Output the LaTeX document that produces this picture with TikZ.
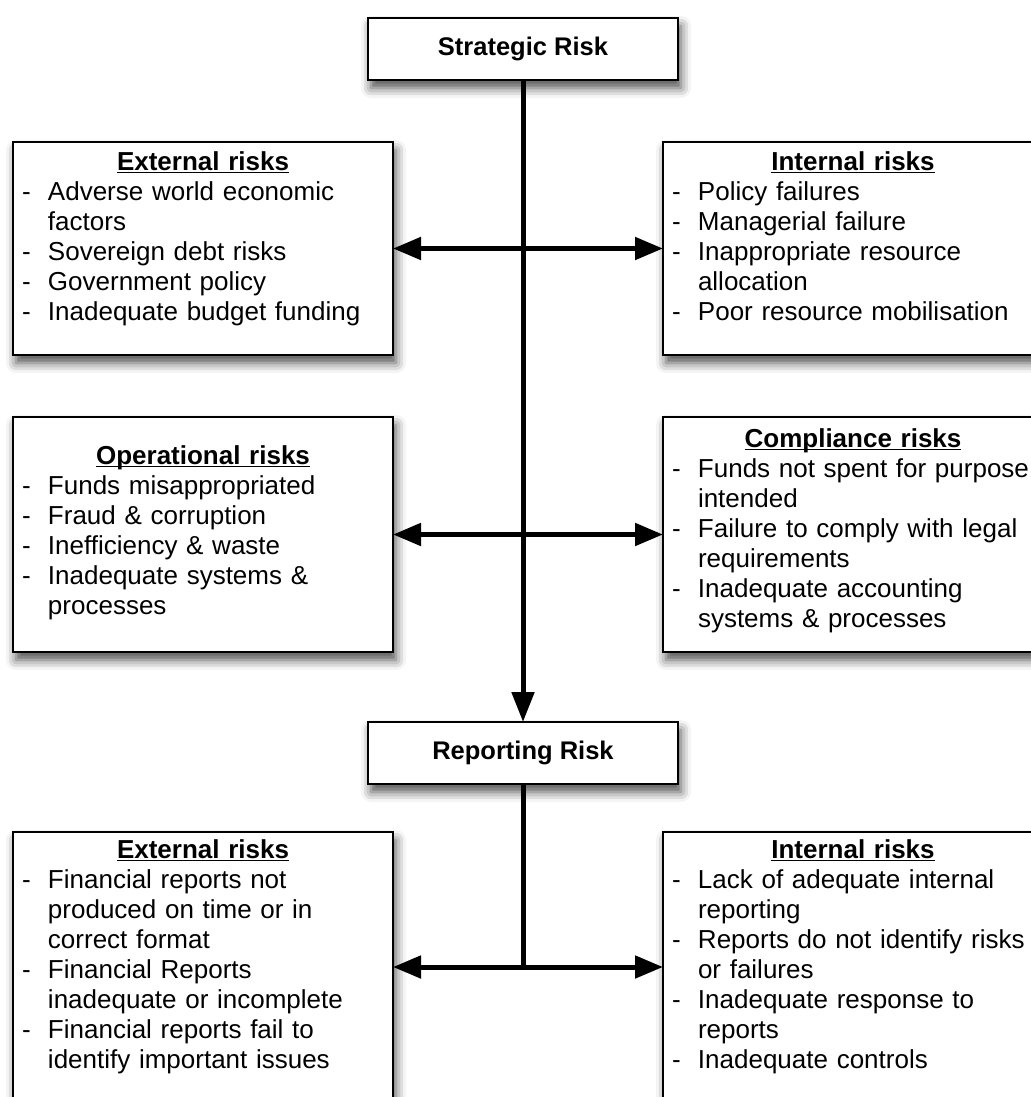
\documentclass[tikz,border=0pt]{standalone}
\usepackage{fontspec}
\setmainfont{Liberation Sans}
\usepackage{tikz}
\usetikzlibrary{arrows.meta}
\usetikzlibrary{shadows.blur}

\newcommand{\rhead}[1]{\centerline{\bfseries\underline{\raisebox{0pt}[\height][0pt]{#1}}}}
\newcommand{\ritem}[1]{\par\noindent\makebox[13pt][l]{-}\mbox{#1}}
\newcommand{\rmore}[1]{\par\noindent\hspace*{13pt}\mbox{#1}}

\begin{document}
\begin{tikzpicture}[x=0.5pt,y=-0.5pt,font=\fontsize{13pt}{15pt}\selectfont]

\tikzstyle{shade}=[blur shadow={shadow xshift=1.5pt,shadow yshift=-4pt,shadow blur radius=5pt,shadow opacity=70}]
\tikzstyle{levelbox}=[draw,line width=1pt,fill=white,shade,outer sep=0pt,inner sep=0pt,
                      minimum width=155pt,minimum height=31pt,anchor=north,font=\fontsize{12.75pt}{15pt}\selectfont\bfseries]
\tikzstyle{riskbox}=[draw,line width=1pt,fill=white,shade,outer sep=0pt,inner xsep=4.5pt,inner ysep=0pt,
                     text width=181pt,align=left,anchor=north west]
\tikzstyle{down}=[line width=2.5pt,-{Triangle[length=15pt,width=11pt]}]
\tikzstyle{both}=[line width=2.5pt,{Triangle[length=14pt,width=11pt]}-{Triangle[length=14pt,width=11pt]}]

\useasboundingbox (0,0) rectangle (1030,1097);

% levels
\node[levelbox] (strat) at (523,18) {Strategic Risk};
\node[levelbox] (report) at (523,722) {Reporting Risk};

% strategic risk groups
\node[riskbox,text height=14pt,text depth=92.5pt] (ext1) at (13,142) {\rhead{External risks}
  \ritem{Adverse world economic}
  \rmore{factors}
  \ritem{Sovereign debt risks}
  \ritem{Government policy}
  \ritem{Inadequate budget funding}};
\node[riskbox,text height=14pt,text depth=92.5pt] (int1) at (663,142) {\rhead{Internal risks}
  \ritem{Policy failures}
  \ritem{Managerial failure}
  \ritem{Inappropriate resource}
  \rmore{allocation}
  \ritem{Poor resource mobilisation}};
\node[riskbox,text height=23.5pt,text depth=94pt] (ops) at (13,417) {\rhead{Operational risks}
  \ritem{Funds misappropriated}
  \ritem{Fraud \& corruption}
  \ritem{Inefficiency \& waste}
  \ritem{Inadequate systems \&}
  \rmore{processes}};
\node[riskbox,text height=15pt,text depth=102.5pt] (comp) at (663,417) {\rhead{Compliance risks}
  \ritem{Funds not spent for purpose}
  \rmore{intended}
  \ritem{Failure to comply with legal}
  \rmore{requirements}
  \ritem{Inadequate accounting}
  \rmore{systems \& processes}};

% reporting risk groups
\node[riskbox,text height=13pt,text depth=122pt] (ext2) at (13,832) {\rhead{External risks}
  \ritem{Financial reports not}
  \rmore{produced on time or in}
  \rmore{correct format}
  \ritem{Financial Reports}
  \rmore{inadequate or incomplete}
  \ritem{Financial reports fail to}
  \rmore{identify important issues}};
\node[riskbox,text height=13pt,text depth=122pt] (int2) at (663,832) {\rhead{Internal risks}
  \ritem{Lack of adequate internal}
  \rmore{reporting}
  \ritem{Reports do not identify risks}
  \rmore{or failures}
  \ritem{Inadequate response to}
  \rmore{reports}
  \ritem{Inadequate controls}};

\coordinate (jn) at (523,967);

% connectors
\draw[down] (strat.south) -- (report.north);
\draw[line width=2.5pt] (report.south) -- (jn);
\draw[both] (ext1.east) -- (int1.west);
\draw[both] (ops.east) -- (comp.west);
\draw[both] (ext2.east) -- (int2.west);
\end{tikzpicture}
\end{document}
